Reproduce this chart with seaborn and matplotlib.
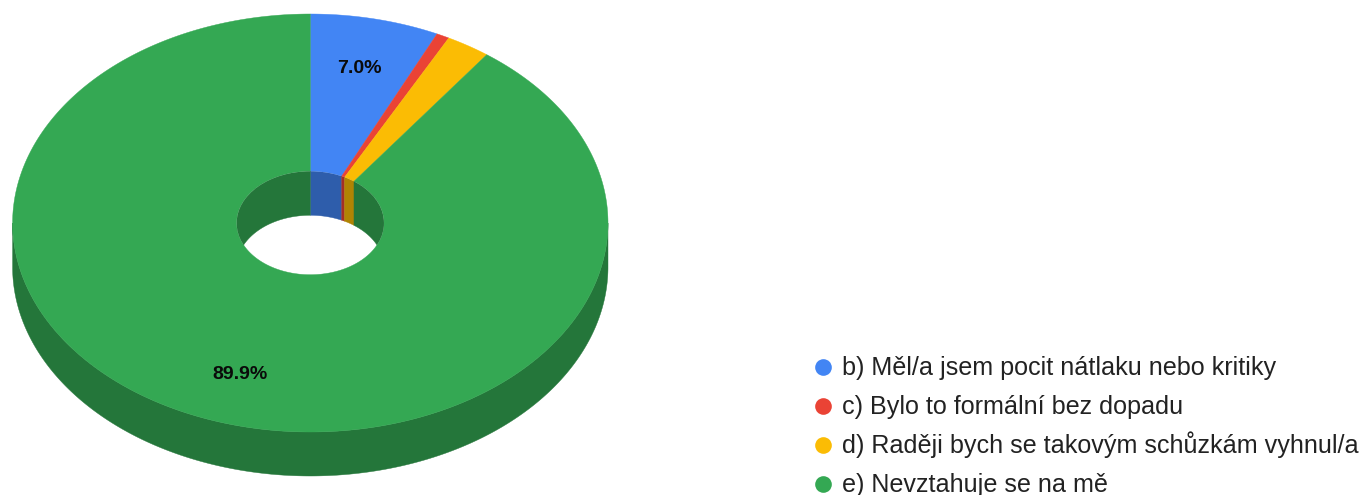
import numpy as np
import matplotlib
matplotlib.use("Agg")
import matplotlib.pyplot as plt
from matplotlib.patches import Ellipse, Polygon
import seaborn as sns

# Survey answers, share of respondents in percent
labels = [
    "b) Měl/a jsem pocit nátlaku nebo kritiky",
    "c) Bylo to formální bez dopadu",
    "d) Raději bych se takovým schůzkám vyhnul/a",
    "e) Nevztahuje se na mě",
]
values = [7.0, 0.7, 2.4, 89.9]
colors = ["#4285F4", "#EA4335", "#FBBC04", "#34A853"]
shown_labels = [True, False, False, True]

sns.set_theme(style="white")
plt.rcParams["font.family"] = ["Liberation Sans", "DejaVu Sans"]
palette = sns.color_palette(colors)
shaded = [tuple(c * 0.7 for c in col) for col in palette]

W, H = 1362, 495
fig = plt.figure(figsize=(W / 100, H / 100), dpi=100)
ax = fig.add_axes([0, 0, 1, 1])
ax.set_xlim(0, W)
ax.set_ylim(H, 0)
ax.axis("off")

# Ring geometry of the tilted doughnut, in figure pixels
cx, cy = 310.3, 223.0
rx, ry = 297.7, 209.0
hole = 0.2475
depth = 44.0


def arc(t0, t1, frac, dy=0.0):
    """Points along an elliptical arc; angles run clockwise from 12 o'clock."""
    n = max(int(abs(t1 - t0) * 2) + 2, 4)
    t = np.radians(np.linspace(t0, t1, n))
    return np.column_stack([cx + frac * rx * np.sin(t),
                            cy + dy - frac * ry * np.cos(t)])


# Slice angles from the percentages
edges = np.cumsum([0.0] + [v / sum(values) * 360.0 for v in values])

# Outer side wall: only the front half of the ring is visible
for i in range(len(values)):
    lo, hi = max(edges[i], 90.0), min(edges[i + 1], 270.0)
    if hi > lo:
        pts = np.vstack([arc(lo, hi, 1.0), arc(hi, lo, 1.0, depth)])
        ax.add_patch(Polygon(pts, closed=True, fc=shaded[i], ec=shaded[i], lw=0.3, zorder=1))

# Top face of the ring
for i in range(len(values)):
    pts = np.vstack([arc(edges[i], edges[i + 1], 1.0), arc(edges[i + 1], edges[i], hole)])
    ax.add_patch(Polygon(pts, closed=True, fc=palette[i], ec=palette[i], lw=0.3, zorder=2))

# Inner wall seen through the hole: the back half, clipped to the hole outline
hole_clip = Ellipse((cx, cy), 2 * hole * rx, 2 * hole * ry, transform=ax.transData)
for i in range(len(values)):
    spans = [(edges[i], min(edges[i + 1], 90.0)), (max(edges[i], 270.0), edges[i + 1])]
    for lo, hi in spans:
        if hi > lo:
            pts = np.vstack([arc(lo, hi, hole), arc(hi, lo, hole, depth)])
            wall = Polygon(pts, closed=True, fc=shaded[i], ec=shaded[i], lw=0.3, zorder=3)
            ax.add_patch(wall)
            wall.set_clip_path(hole_clip)

# Percentage labels on the larger slices
for i, v in enumerate(values):
    if shown_labels[i]:
        mid = np.radians((edges[i] + edges[i + 1]) / 2)
        ax.text(cx + 0.754 * rx * np.sin(mid), cy - 0.76 * ry * np.cos(mid) + 0.5,
                f"{v:.1f}%", ha="center", va="center",
                fontsize=14, fontweight="bold", color="#0a0a0a", zorder=4)

# Legend rows in the lower right corner, evenly spaced
for i, (name, col) in enumerate(zip(labels, palette)):
    row = 367 + 39 * i
    ax.plot([823], [row], ls="none", marker="o", ms=12, mfc=col, mec=col, mew=0,
            clip_on=False, zorder=4)
    ax.text(842, row + 8, name, ha="left", va="baseline", fontsize=18.1,
            color="#222222", zorder=4)

fig.savefig("out.png", dpi=100, facecolor="white")
